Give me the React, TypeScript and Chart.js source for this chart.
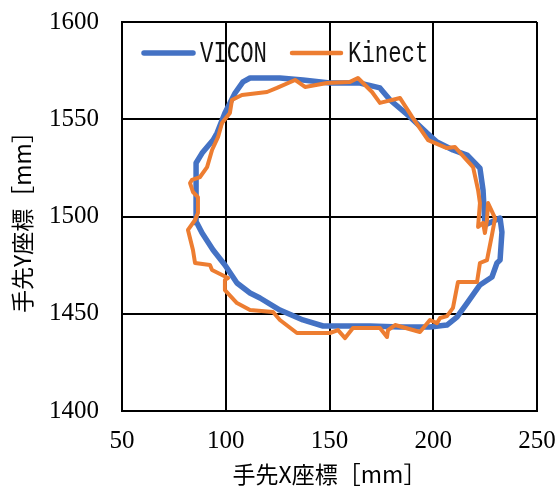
import React, { useEffect, useRef } from 'react';
import { Chart, registerables } from 'chart.js';

Chart.register(...registerables);

const seriesNames = ['VICON', 'Kinect'];
const xTitle = '手先X座標［mm］';
const yTitle = '手先Y座標［mm］';
const xTickValues = [50, 100, 150, 200, 250];
const yTickValues = [1400, 1450, 1500, 1550, 1600];

const viconX = [85.7, 85.7, 88.6, 93.9, 95.8, 99.6, 104.5, 108.3, 111.7, 126.1, 137.2, 150.2, 164.7, 174.3, 179.2, 188.8, 197.0, 201.8, 209.5, 216.3, 222.5, 224.0, 224.9, 232.2, 233.1, 232.2, 230.7, 228.3, 222.5, 216.3, 211.4, 206.6, 198.4, 184.0, 169.5, 146.9, 137.2, 126.1, 116.5, 111.7, 105.4, 99.6, 93.9, 88.6, 86.1, 85.7];
const viconY = [1513.6, 1527.5, 1532.6, 1539.3, 1542.9, 1553.2, 1563.5, 1569.2, 1571.2, 1571.2, 1570.2, 1568.6, 1568.6, 1566.1, 1559.9, 1551.2, 1542.9, 1538.3, 1534.2, 1531.6, 1524.9, 1513.6, 1495.6, 1499.2, 1492.0, 1477.6, 1476.1, 1468.9, 1464.8, 1455.5, 1448.3, 1444.2, 1443.2, 1443.2, 1443.7, 1443.7, 1446.8, 1451.9, 1458.1, 1460.7, 1465.8, 1475.1, 1482.8, 1491.5, 1496.7, 1513.6];

const kinectX = [81.8, 85.2, 86.6, 86.6, 84.2, 82.8, 83.7, 87.6, 91.0, 93.4, 96.3, 98.2, 102.0, 103.0, 107.8, 119.9, 124.7, 133.4, 138.2, 148.8, 159.9, 163.7, 170.5, 174.3, 184.0, 189.8, 197.5, 206.6, 210.5, 219.2, 221.6, 222.5, 221.6, 224.0, 224.9, 225.9, 226.4, 229.8, 228.3, 225.9, 222.5, 221.1, 211.9, 209.5, 206.6, 203.3, 201.8, 198.4, 193.6, 181.6, 178.2, 177.7, 174.3, 166.1, 161.3, 157.5, 154.1, 150.2, 134.3, 126.1, 122.8, 111.7, 105.4, 99.6, 99.6, 101.1, 93.4, 92.4, 85.2, 84.2, 81.8];
const kinectY = [1493.1, 1498.2, 1501.8, 1510.0, 1512.6, 1517.2, 1518.8, 1520.3, 1525.4, 1534.2, 1540.9, 1548.1, 1553.2, 1559.9, 1562.5, 1564.0, 1566.1, 1570.2, 1566.6, 1568.6, 1569.2, 1571.2, 1564.0, 1558.4, 1560.9, 1551.2, 1539.3, 1535.2, 1535.7, 1525.4, 1513.6, 1506.9, 1494.6, 1496.7, 1491.5, 1498.2, 1506.9, 1499.2, 1490.5, 1477.6, 1476.1, 1466.3, 1466.3, 1453.0, 1448.8, 1447.8, 1445.2, 1446.8, 1440.6, 1444.2, 1441.6, 1438.0, 1442.7, 1442.7, 1442.7, 1437.5, 1441.6, 1440.1, 1440.1, 1446.8, 1450.9, 1451.9, 1455.5, 1462.2, 1467.4, 1468.4, 1472.5, 1475.1, 1476.1, 1482.8, 1493.1];

const colors = ['#4472C4', '#ED7D31'];
const lineWidths = [5.5, 4];

const toPoints = (xs: number[], ys: number[]) => xs.map((x, i) => ({ x, y: ys[i] }));

// Legend drawn inside the plot area (Excel-style), from the dataset labels/colours
const insideLegend = {
  id: 'insideLegend',
  afterDraw(chart: any) {
    const { ctx, chartArea } = chart;
    const sampleLen = 53;
    const gapText = 5;
    const gapItems = 23;
    const fontSize = 29;
    const squeeze = 0.77;
    let x = chartArea.left + 20;
    const yLine = chartArea.top + 31;
    const yBase = chartArea.top + 40;
    ctx.save();
    chart.data.datasets.forEach((ds: any, i: number) => {
      ctx.beginPath();
      ctx.strokeStyle = ds.borderColor;
      ctx.lineWidth = i === 0 ? 5.5 : 4.5;
      ctx.lineCap = 'round';
      ctx.moveTo(x + 2, yLine);
      ctx.lineTo(x + sampleLen - 2, yLine);
      ctx.stroke();
      x += sampleLen + gapText;
      ctx.font = `${fontSize}px "Liberation Mono", monospace`;
      ctx.fillStyle = '#111';
      ctx.textBaseline = 'alphabetic';
      ctx.textAlign = 'left';
      const w = ctx.measureText(ds.label).width * squeeze;
      ctx.save();
      ctx.translate(x, yBase);
      ctx.scale(squeeze, 1);
      ctx.fillText(ds.label, 0, 0);
      ctx.restore();
      x += w + gapItems;
    });
    ctx.restore();
  },
};

export default function App() {
  const ref = useRef<HTMLCanvasElement | null>(null);

  useEffect(() => {
    document.body.style.margin = '0';
    const canvas = ref.current;
    if (!canvas) return;
    Chart.defaults.font.family = '"Liberation Serif", serif';
    const tickFont = { family: '"Liberation Serif", serif', size: 25 };
    const titleFont = { family: '"Noto Sans CJK JP", sans-serif', size: 23 };
    const chart = new Chart(canvas, {
      type: 'scatter',
      data: {
        datasets: [
          {
            label: seriesNames[0],
            data: toPoints(viconX, viconY),
            showLine: true,
            borderColor: colors[0],
            backgroundColor: colors[0],
            borderWidth: lineWidths[0],
            pointRadius: 0,
            borderJoinStyle: 'round',
            borderCapStyle: 'round',
            tension: 0,
            order: 2,
          },
          {
            label: seriesNames[1],
            data: toPoints(kinectX, kinectY),
            showLine: true,
            borderColor: colors[1],
            backgroundColor: colors[1],
            borderWidth: lineWidths[1],
            pointRadius: 0,
            borderJoinStyle: 'round',
            borderCapStyle: 'round',
            tension: 0,
            order: 1,
          },
        ],
      },
      options: {
        animation: false,
        responsive: false,
        maintainAspectRatio: false,
        layout: { padding: { top: 22, right: 20, left: 0, bottom: 0 } },
        plugins: {
          tooltip: { enabled: false },
          legend: { display: false },
        },
        scales: {
          x: {
            type: 'linear',
            min: 50,
            max: 250,
            afterBuildTicks: (s: any) => {
              s.ticks = xTickValues.map((v) => ({ value: v }));
            },
            afterFit: (s: any) => {
              s.height = 83;
              s.paddingLeft = 0;
              s.paddingRight = 0;
            },
            ticks: { font: tickFont, color: '#000', padding: 15, callback: (v: any) => String(v) },
            grid: { color: '#000', lineWidth: 2, drawTicks: false },
            border: { color: '#000', width: 2 },
            title: {
              display: true,
              text: xTitle,
              font: titleFont,
              color: '#000',
              padding: { top: 0, bottom: 6 },
            },
          },
          y: {
            type: 'linear',
            min: 1400,
            max: 1600,
            afterBuildTicks: (s: any) => {
              s.ticks = yTickValues.map((v) => ({ value: v }));
            },
            afterFit: (s: any) => {
              s.width = 122;
              s.paddingTop = 0;
              s.paddingBottom = 0;
            },
            ticks: { font: tickFont, color: '#000', padding: 23, callback: (v: any) => String(v) },
            grid: { color: '#000', lineWidth: 2, drawTicks: false },
            border: { color: '#000', width: 2 },
            title: {
              display: true,
              text: yTitle,
              font: titleFont,
              color: '#000',
              padding: { top: 8, bottom: 0 },
            },
          },
        },
      },
      plugins: [insideLegend],
    } as any);
    return () => chart.destroy();
  }, []);

  return (
    <div style={{ width: 557, height: 494 }}>
      <canvas ref={ref} width={557} height={494} style={{ display: 'block' }} />
    </div>
  );
}
